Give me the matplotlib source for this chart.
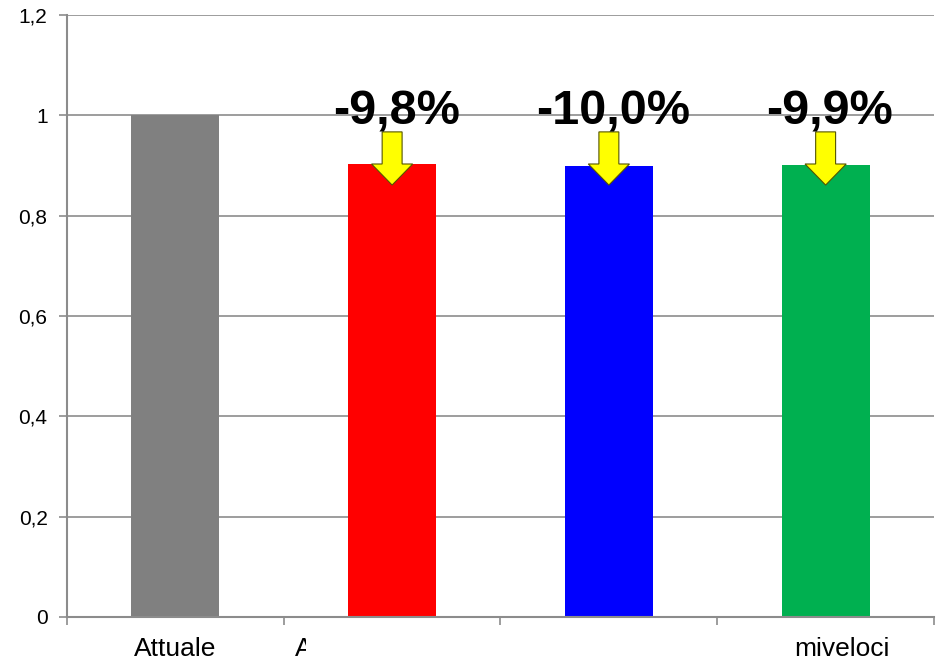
import matplotlib.pyplot as plt
from matplotlib.patches import FancyArrow
from matplotlib.transforms import Bbox

plt.rcParams['font.family'] = ['Liberation Sans', 'DejaVu Sans']

categories = ["Attuale", "A", "", "miveloci"]
values = [1.0, 0.902, 0.900, 0.901]
colors = ["#808080", "#ff0000", "#0000ff", "#00b050"]
changes = ["", "-9,8%", "-10,0%", "-9,9%"]
yticks = [0, 0.2, 0.4, 0.6, 0.8, 1.0, 1.2]
ytick_labels = ["0", "0,2", "0,4", "0,6", "0,8", "1", "1,2"]

fig = plt.figure(figsize=(9.37, 6.64), dpi=100)
ax = fig.add_axes([67 / 937, 47 / 664, 867 / 937, 602 / 664])

x = list(range(len(categories)))
ax.bar(x, values, width=0.405, color=colors, zorder=2)

ax.set_xlim(-0.5, len(categories) - 0.5)
ax.set_ylim(0, 1.2)
ax.set_yticks(yticks)
ax.set_yticklabels(ytick_labels, fontsize=15)
ax.yaxis.grid(True, color="#8c8c8c", linewidth=1.2, zorder=0)
ax.set_axisbelow(True)

# category boundaries as ticks
ax.set_xticks([i - 0.5 for i in range(len(categories) + 1)])
ax.set_xticklabels([])
ax.tick_params(axis="x", length=6, color="#8c8c8c", width=1.2)
ax.tick_params(axis="y", length=6, color="#8c8c8c", width=1.2, pad=8)

for s in ["top", "right"]:
    ax.spines[s].set_visible(False)
for s in ["left", "bottom"]:
    ax.spines[s].set_color("#8c8c8c")
    ax.spines[s].set_linewidth(1.5)

# category labels (as they appear, partly cut)
xt = ax.get_xaxis_transform()
ax.text(0, -0.033, categories[0], ha="center", va="top", fontsize=19, transform=xt)
t = fig.text(295 / 937, 1 - 637 / 664, categories[1], ha="left", va="top", fontsize=19)
t.set_clip_box(Bbox.from_extents(0, 0, 306, 664))
t.set_clip_on(True)
ax.text(3.076, -0.033, categories[3], ha="center", va="top", fontsize=19, transform=xt)

# arrows and percentages
for i, (v, lab) in enumerate(zip(values, changes)):
    if not lab:
        continue
    arr = FancyArrow(i, 0.967, 0, -0.106, width=0.092, head_width=0.19,
                     head_length=0.042, length_includes_head=True,
                     facecolor="#ffff00", edgecolor="#555500", linewidth=0.8,
                     zorder=4)
    ax.add_patch(arr)
    ax.text(i + 0.02, 0.981, lab, ha="center", va="baseline", fontsize=35,
            fontweight="bold", zorder=5)

fig.savefig("out.png", dpi=100)
